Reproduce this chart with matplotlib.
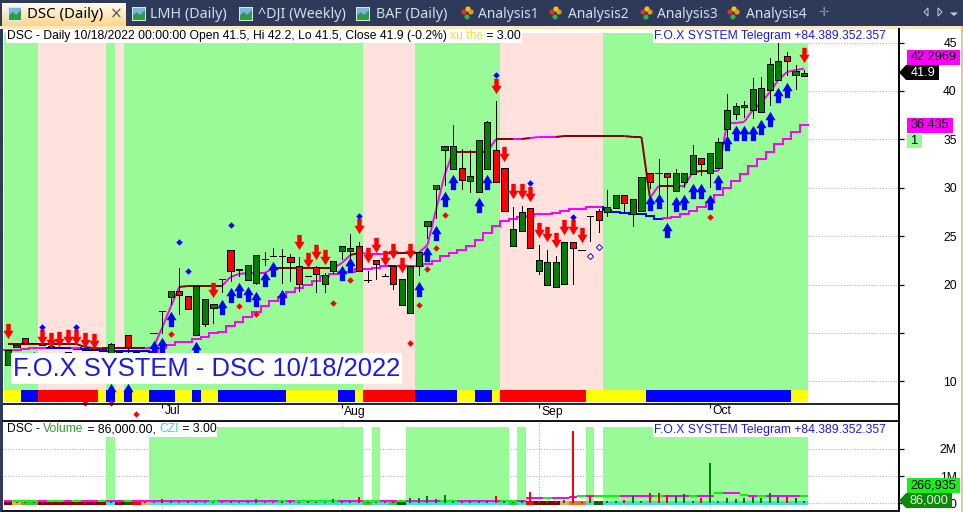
import matplotlib
matplotlib.use("Agg")
import matplotlib.pyplot as plt
import numpy as np
from matplotlib.patches import Rectangle, Polygon
from matplotlib.path import Path

# ---------- data ----------
opens = [11.68,13.54,14.47,13.96,13.75,13.65,13.54,13.03,13.34,13.23,13.23,13.13,12.62,13.03,14.78,13.03,13.13,14.99,17.26,18.71,
         19.33,18.81,14.78,15.92,17.57,20.57,23.56,21.45,20.47,20.16,22.64,22.95,22.95,22.84,21.91,20.88,21.81,20.05,21.40,23.46,
         23.46,23.98,20.47,22.53,20.88,21.91,17.88,17.06,21.91,26.04,29.87,33.89,31.93,32.04,30.69,29.56,31.93,33.89,32.04,23.98,
         25.53,27.90,21.40,19.95,19.74,20.05,24.39,23.56,27.08,27.59,27.49,27.90,29.25,27.28,27.59,31.52,31.52,31.52,29.66,30.59,
         31.42,33.07,31.52,32.04,36.06,37.61,38.34,38.03,37.82,40.09,41.13,43.61,41.64,41.5]
highs = [13.23,13.75,14.47,13.96,13.75,13.65,13.54,13.03,13.34,13.23,13.23,13.13,13.99,13.03,14.78,13.03,13.13,14.99,17.26,19.33,
         21.71,18.81,19.85,18.50,17.99,20.57,23.56,21.55,22.02,23.05,23.36,23.77,23.67,23.15,22.84,20.88,21.90,21.19,22.43,23.98,
         25.22,24.39,21.40,22.53,21.09,21.91,20.57,21.91,23.36,26.56,30.28,34.31,36.48,34.00,33.89,34.93,36.89,38.96,32.04,28.01,
         28.11,27.90,24.08,23.56,22.95,24.39,24.39,23.56,27.08,27.80,29.76,29.25,29.25,28.83,31.11,31.52,32.97,31.52,31.93,31.52,
         34.41,33.07,33.59,35.13,39.68,38.75,38.96,41.33,41.44,43.40,44.95,44.02,42.68,42.2]
lows = [11.68,13.54,13.96,13.96,13.75,13.65,13.54,13.03,13.34,13.23,13.23,13.13,12.62,13.03,12.72,13.03,13.13,14.99,14.99,17.99,
        16.95,17.47,14.78,15.71,16.02,19.23,20.36,20.88,20.47,20.05,22.02,22.95,20.16,20.36,19.33,20.88,19.23,19.23,21.19,22.64,
        22.02,21.40,20.26,20.57,20.88,19.54,17.88,17.06,20.98,24.80,26.87,30.28,31.93,29.87,29.56,29.56,31.93,30.59,27.59,23.98,
        25.53,23.77,21.09,19.95,19.74,20.05,20.05,23.56,24.49,25.42,27.08,27.90,27.59,26.04,27.59,29.97,29.25,27.08,29.66,30.07,
        31.42,31.31,30.07,32.04,35.34,37.10,37.30,37.20,37.82,38.54,41.13,41.64,40.20,41.5]
closes = [13.23,13.75,13.96,13.96,13.75,13.65,13.54,13.03,13.34,13.23,13.23,13.13,13.85,13.03,13.54,13.03,13.13,14.99,17.26,19.33,
          18.92,17.47,19.85,18.50,17.99,20.57,21.40,21.55,22.02,23.05,22.64,22.95,22.95,22.33,20.05,20.88,21.09,20.98,22.43,23.98,
          23.77,21.40,20.47,22.12,20.88,20.05,20.57,21.91,23.36,26.56,30.28,34.31,34.31,30.80,31.21,34.93,36.79,30.59,27.59,25.73,
          27.49,23.77,22.53,22.33,22.33,24.39,23.77,23.56,27.08,26.66,28.01,29.25,28.42,28.83,31.11,30.59,31.52,31.11,31.52,31.52,
          33.38,32.45,33.59,34.72,38.03,38.44,38.54,40.20,40.30,42.78,43.09,43.09,42.06,41.9]

upper_line = [13.85]*9 + [13.54,13.44] + [13.39]*6 + [13.54,15.51,17.68,19.74] + [19.85]*5 + [20.78,21.09,21.19,21.19,21.19] + [21.71]*8 + \
             [22.22,23.05,23.26,23.18,23.18,23.18,23.29,23.29,23.29,23.29,24.08,27.70,31.31,33.69,33.69,33.69,33.69,33.69,35.03,35.03,35.03,35.03,
              35.13,35.24,35.24,35.24] + [35.34]*8 + [35.24,35.24,28.94,30.18,30.18,30.18,30.18,31.62,31.73,31.73,31.73,36.68,36.68,36.79,38.03,38.75,39.89,41.13,41.95,42.16,42.2969]
upper_col = list("d"*17 + "mmmm" + "ddddd" + "mmmmmm" + "d"*7 + "mm" + "d" + "mmm" + "dddd" + "mmmm" + "dddd" + "m" + "dd" + "m" + "d" + "mmm" + "d"*11 + "m" + "dd" + "mm" + "dd" + "m"*11)
lower_line = [13.23,13.23,13.34,13.44,13.44,13.44,13.44,13.44,13.44,13.34,13.23,13.23,13.13,13.13,13.13,13.13,13.13,13.03,13.44,13.75,
              14.06,14.06,14.37,14.61,14.99,15.09,15.71,16.13,16.67,17.19,17.78,18.33,18.74,19.23,19.64,19.95,20.36,20.88,21.09,21.29,
              21.32,21.60,21.60,21.71,21.91,21.91,21.91,21.91,21.91,22.12,22.46,22.98,23.26,23.56,23.98,24.60,25.32,26.04,26.59,26.80,
              27.00,27.11,27.28,27.28,27.42,27.62,27.80,27.80,28.04,28.04,27.70,27.46,27.39,27.25,27.25,27.08,26.80,26.87,27.00,27.28,
              27.62,28.04,28.55,29.25,30.00,30.72,31.45,32.27,32.97,33.69,34.51,35.03,35.75,36.435]
lower_col = list("mmmmm" + "bbb" + "m" + "b"*9 + "m"*27 + "b" + "m"*24 + "b"*7 + "m"*17)

up_idx = [3,12,14,17,18,19,22,25,26,27,28,29,30,31,32,39,40,48,49,50,51,52,55,56,75,76,77,78,79,80,81,82,83,84,85,86,87,88,89,90,91]
up_val = [12.31,8.95,8.95,13.44,13.70,16.47,13.29,17.71,18.92,19.40,19.07,18.55,20.52,21.55,18.66,21.14,22.02,19.54,23.20,25.37,28.83,30.54,28.21,30.54,
          28.47,28.63,25.63,28.32,28.52,29.66,29.68,28.52,30.59,34.57,35.60,35.65,35.60,36.27,37.10,39.58,40.14]
dn_idx = [0,4,5,6,7,8,9,10,24,34,35,36,37,41,42,43,44,45,46,47,57,58,59,60,61,62,63,64,65,66,67,93]
dn_val = [15.15,14.61,14.27,14.42,14.53,14.58,14.27,14.16,19.48,24.44,22.48,23.31,22.86,26.04,23.00,24.03,22.69,23.41,22.02,23.41,
          40.53,33.53,29.61,29.71,29.40,25.68,25.17,24.55,25.89,25.89,25.11,43.76]
bdia_idx = [4,8,20,21,26,41,57,61,66]
bdia_val = [15.64,15.64,24.39,21.40,26.15,27.08,41.67,30.52,27.00]
rdia_idx = [9,12,15,19,27,29,38,40,47,48,49,50,51,82]
rdia_val = [7.76,7.79,6.62,14.92,17.78,16.98,18.09,20.47,13.96,17.88,21.60,23.77,27.18,26.97]
hollow_idx = [68,69]
hollow_val = [22.95,23.87]

pink_bars = [4,5,6,7,8,9,10,11,13] + list(range(42,48)) + list(range(58,70))
ribbon_runs = [("y",0,1),("b",2,3),("r",4,10),("y",11,11),("b",12,12),("y",13,13),("b",14,14),("y",15,16),("b",17,19),("y",20,21),("b",22,22),
               ("y",23,24),("b",25,32),("y",33,38),("b",39,40),("y",41,41),("r",42,47),("b",48,52),("y",53,54),("b",55,56),("y",57,57),
               ("r",58,67),("y",68,74),("b",75,91),("y",92,93)]

volume_m = [.05,.04,.06,.05,.04,.06,.05,.07,.05,.04,.06,.05,.07,.05,.06,.04,.05,.06,.16,.07,
            .05,.07,.08,.05,.06,.05,.07,.06,.07,.16,.05,.06,.09,.08,.05,.08,.06,.05,.17,.07,
            .07,.24,.04,.05,.05,.08,.06,.19,.18,.27,.17,.30,.08,.07,.09,.08,.07,.27,.09,.06,
            .12,.41,.08,.09,.10,.11,2.66,.05,.28,.10,.08,.10,.12,.27,.10,.37,.37,.30,.27,.33,
            .10,.20,1.50,.08,.18,.15,.18,.25,.18,.37,.22,.22,.18,.086]
vol_line = [.08]*17 + [.095]*44 + [.19]*5 + [.22,.27] + [.27]*15 + [.39,.39,.39,.32] + [.27]*7
vol_line[-1] = .266935
vol_lime = [1,2,3,5,6,8,11,14,24,32,34,35,36,37,38,42,43,46,51,52,58,59,63,67,69,70,71,76,80,83,86,88,93]
vol_green_bars = list(range(17,42)) + [12,43] + list(range(47,59)) + [60,68] + list(range(70,94))
czi_runs = [("#8b0000",0,0),("#f4a460",1,1),("#32cd32",2,3),("#8b0000",4,11),("#40e0d0",12,12),("#8b0000",13,13),("#006400",14,14),("#ff0000",15,15),
            ("#f4a460",16,16),("#40e0d0",17,41),("#32cd32",42,42),("#40e0d0",43,44),("#32cd32",45,45),("#006400",46,46),("#40e0d0",47,58),("#32cd32",59,59),
            ("#40e0d0",60,60),("#ff0000",61,61),("#8b0000",62,64),("#f4a460",65,65),("#ff6a2a",66,67),("#40e0d0",68,68),("#006400",69,69),("#40e0d0",70,93)]
month_idx = [18,39,62,82]
month_names = ["Jul","Aug","Sep","Oct"]
price_ticks = [10,15,20,25,30,35,40,45]
price_labels = ["10","","20","25","30","35","40","45"]
vol_ticks = [0,1,2]
vol_labels = ["0","1M","2M"]
tabs = ["LMH (Daily)","^DJI (Weekly)","BAF (Daily)"]
analyses = ["Analysis1","Analysis2","Analysis3","Analysis4"]

# ---------- layout ----------
W, H = 963, 512
X0, DX = 8.0, 8.56
FONT = "Liberation Sans"
FS = 8.7
GREEN_BG, PINK_BG = "#98fb98", "#ffe2de"
fig = plt.figure(figsize=(W/100, H/100), dpi=100, facecolor="white")

def axes_px(l, t, r, b, z):
    a = fig.add_axes([l/W, 1-b/H, (r-l)/W, (b-t)/H], zorder=z)
    a.set_xlim((l-X0)/DX, (r-X0)/DX)
    for s in a.spines.values():
        s.set_visible(False)
    a.set_xticks([])
    return a

def py(y): return 45-(y-42.5)/9.68
def vy(y): return (503.3-y)/27.2

ax = axes_px(3, 27, 899, 420, 1); ax.set_ylim(py(420), py(27))
vx = axes_px(3, 421, 899, 510, 1); vx.set_ylim(vy(510), vy(421))
ch = fig.add_axes([0,0,1,1], zorder=5); ch.set_xlim(0,W); ch.set_ylim(H,0); ch.axis("off"); ch.patch.set_alpha(0)

N = len(closes)
x = np.arange(N)
colmap = {"d":"#8b0000","m":"#ff00ff","b":"#0000ff"}
ribcol = {"y":"#ffff00","b":"#0000ff","r":"#ff0000"}
LW = 1.44

# price pane background
ax.hlines(price_ticks, -1, N+20, colors="#b0b0b0", linestyles=(0,(1,1.5)), lw=0.8, zorder=0)
for i in range(N):
    ax.add_patch(Rectangle((i-.5, py(402.5)), 1, py(33)-py(402.5), fc=PINK_BG if i in pink_bars else GREEN_BG, ec="none", aa=False, zorder=1))
for c,a_,b_ in ribbon_runs:
    ax.add_patch(Rectangle((a_-.5, py(402)), b_-a_+1, py(390)-py(402), fc=ribcol[c], ec="none", aa=False, zorder=1.5))

# lines
for i in range(1,N):
    ax.plot([i-1,i],[upper_line[i-1],upper_line[i]],color=colmap[upper_col[i]],lw=LW,solid_capstyle="butt",zorder=2)
for i in range(N):
    col = colmap[lower_col[i]]
    ax.plot([i-.5,i+.5],[lower_line[i]]*2,color=col,lw=LW,solid_capstyle="projecting",zorder=2)
    if i:
        ax.plot([i-.5,i-.5],[lower_line[i-1],lower_line[i]],color=col,lw=LW,zorder=2)

# candles
ax.vlines(x, lows, highs, colors="black", lw=0.72, zorder=3, antialiased=False)
for i in range(N):
    col = "#ff0000" if closes[i] < opens[i] else "#008000"
    b = min(opens[i],closes[i]); h = abs(closes[i]-opens[i])
    ax.add_patch(Rectangle((i-.36,b),.72,h,fc=col,ec="black",lw=0.72,aa=False,zorder=3.1))

# markers
up_path = Path([(0,7.5),(5,-.7),(2.6,-.7),(2.6,-7.5),(-2.6,-7.5),(-2.6,-.7),(-5,-.7),(0,7.5)], closed=True)
dn_path = Path([(0,-7.5),(5,.7),(2.2,.7),(2.2,7.5),(-2.2,7.5),(-2.2,.7),(-5,.7),(0,-7.5)], closed=True)
ax.plot(up_idx, up_val, ls="", marker=up_path, ms=11, mfc="#0000ff", mec="none", zorder=4, antialiased=False)
ax.plot(dn_idx, dn_val, ls="", marker=dn_path, ms=11, mfc="#ff0000", mec="none", zorder=4, antialiased=False)
ax.plot(bdia_idx, bdia_val, ls="", marker="D", ms=3.3, mfc="#0000ff", mec="none", zorder=4.1)
ax.plot(rdia_idx, rdia_val, ls="", marker="D", ms=3.3, mfc="#ff0000", mec="none", zorder=4.1, clip_on=False)
ax.plot(hollow_idx, hollow_val, ls="", marker="D", ms=3.1, mfc="white", mec="#0000ff", mew=0.7, zorder=4.1)

# date strip
ax.hlines(py(403.5), -1, N+20, colors="black", lw=1.2, zorder=5)
ax.vlines(month_idx, py(408), py(403), colors="black", lw=0.8, zorder=5)
for i,n in zip(month_idx, month_names):
    ax.text(i+0.3, py(411.5), n, fontsize=FS, family=FONT, va="center", ha="left", zorder=5)

# price axis ticks
ax.yaxis.tick_right()
ax.set_yticks(price_ticks); ax.set_yticklabels(price_labels, family=FONT, fontsize=FS, ha="right")
ax.tick_params(axis="y", length=3.6, width=0.9, pad=38, color="black")

# volume pane
vx.vlines(month_idx, vy(510), vy(421), colors="#b0b0b0", linestyles=(0,(1,1.5)), lw=0.8, zorder=0)
vx.hlines(vol_ticks, -1, N+20, colors="#b0b0b0", linestyles=(0,(1,1.5)), lw=0.8, zorder=0)
for i in vol_green_bars:
    vx.add_patch(Rectangle((i-.5, vy(505)), 1, vy(427)-vy(505), fc=GREEN_BG, ec="none", aa=False, zorder=1))
for c,a_,b_ in czi_runs:
    vx.add_patch(Rectangle((a_-.5, vy(505)), b_-a_+1, vy(501)-vy(505), fc=c, ec="none", aa=False, zorder=1.5))
for i in range(N):
    col = "#ff0000" if closes[i] <= opens[i] else "#008000"
    vx.plot([i,i],[0,volume_m[i]],color=col,lw=1.44,solid_capstyle="butt",zorder=3)
    lc = "#00ff00" if i in vol_lime else "#ff00ff"
    vx.plot([i-.5,i+.5],[vol_line[i]]*2,color=lc,lw=1.44,solid_capstyle="butt",zorder=2.5)
vx.yaxis.tick_right()
vx.set_yticks(vol_ticks); vx.set_yticklabels(vol_labels, family=FONT, fontsize=FS, ha="right")
vx.tick_params(axis="y", length=3.6, width=0.9, pad=38, color="black")

# ---------- chrome (pixel coordinates) ----------
NAVY = "#2d3a5a"
def rect(x0,y0,x1,y1,c,z=1,**k):
    ch.add_patch(Rectangle((x0,y0),x1-x0,y1-y0,fc=c,ec="none",aa=False,zorder=z,**k))

rect(0,0,W,26,NAVY)
rect(0,26,W,29,"#fde8c2")
rect(0,29,2.5,H,NAVY)
rect(961,26,W,H,"#d9c8a0")
grad = np.linspace(0,1,24)[:,None,None]*(np.array([253,214,140])-np.array([255,250,240]))+np.array([255,250,240])
ch.imshow(grad/255, extent=(2,126,26,3), aspect="auto", zorder=1.5)
ch.set_xlim(0,W); ch.set_ylim(H,0)
ch.text(27,14.5,"DSC (Daily)",family="Noto Sans",weight="bold",fontsize=10.8,va="center",ha="left",color="black",zorder=2)
ch.text(116,13.5,"\u00d7",family="DejaVu Sans",fontsize=11,va="center",ha="center",color="#555555",zorder=2)

def chart_icon(x0):
    rect(x0,7,x0+14,21,"#d9e6f5",2)
    rect(x0+1,8,x0+13,15,"#7fb2e5",2.1)
    ch.add_patch(Polygon([(x0+1,20),(x0+1,15),(x0+5,12),(x0+8,15),(x0+13,10),(x0+13,20)],fc="#2e9e3a",ec="none",zorder=2.2))
def ana_icon(x0):
    ch.scatter([x0+3,x0+7,x0+10,x0+6],[12,9,12,17],s=[14,14,14,14],c=["#e0342a","#f5c518","#e89a1c","#35b044"],zorder=2,linewidths=0)

chart_icon(8)
for xi,xt,t in zip([132,239,356],[150,258,376],tabs):
    chart_icon(xi)
    ch.text(xt,14.5,t,family="Noto Sans",fontsize=10.3,va="center",ha="left",color="#d5dcea",zorder=2)
for xi,xt,t in zip([461,549,640,727],[478,568,657,746],analyses):
    ana_icon(xi)
    ch.text(xt,14.5,t,family="Noto Sans",fontsize=10,va="center",ha="left",color="#d5dcea",zorder=2)
ch.text(823.5,13,"\u271b",family="DejaVu Sans",fontsize=9,va="center",ha="center",color="#8e98ae",zorder=2)
ch.add_patch(Polygon([(928,8),(928,16),(924,12)],fc=NAVY,ec="#c8d0de",lw=.7,zorder=2))
ch.add_patch(Polygon([(938,8),(938,16),(942,12)],fc=NAVY,ec="#c8d0de",lw=.7,zorder=2))
ch.add_patch(Polygon([(950,12.5),(958,12.5),(954,16)],fc="#c8d0de",ec="none",zorder=2))

fig.canvas.draw()
rend = fig.canvas.get_renderer()
def seq(x0,yc,parts,top,bot,fs=FS):
    xx = x0
    for s,c in parts:
        t = ch.text(xx,yc,s,family=FONT,fontsize=fs,color=c,va="center",ha="left",zorder=3)
        ws = ch.text(0,0,s.replace(" ","\u00a0"),family=FONT,fontsize=fs,alpha=0)
        xx += ws.get_window_extent(rend).width
        ws.remove()
    rect(x0-1,top,xx+1,bot,"white",2.5)

seq(7,36,[("DSC - Daily 10/18/2022 00:00:00 Open 41.5, Hi 42.2, Lo 41.5, Close 41.9 (-0.2%) ","black"),("xu the","#f0e020"),(" = 3.00","black")],30,43)
seq(653.5,35.5,[("F.O.X SYSTEM Telegram +84.389.352.357","#1a1ae6")],30,43)
seq(7,429.5,[("DSC - ","black"),("Volume","#2e9e2e"),(" = 86,000.00, ","black"),("CZI","#48d1cc"),(" = 3.00","black")],424,437)
seq(653.5,430,[("F.O.X SYSTEM Telegram +84.389.352.357","#1a1ae6")],424,437)

rect(11,353,402,384,"white",2.5)
ch.text(13,369,"F.O.X SYSTEM - DSC 10/18/2022",family=FONT,fontsize=18.4,color="#1a1ae6",va="center",ha="left",zorder=3)

# right-hand value badges
ch.plot([899,899],[28,510.5],color="black",lw=1.4,zorder=2,solid_capstyle="butt")
ch.plot([3,899],[420.5,420.5],color="black",lw=1.3,zorder=2)
ch.plot([3,899],[510.5,510.5],color="black",lw=1.3,zorder=2)
def badge(x0,y0,x1,y1,c,s,tc="black",xt=None):
    rect(x0,y0,x1,y1,c,3)
    ch.text(xt if xt else (x0+x1)/2,(y0+y1)/2,s,family=FONT,fontsize=9.2,color=tc,va="center",ha="center",zorder=4)
badge(907,50,960,65,"#ff00ff","42.2969")
badge(907,118,953,133,"#ff00ff","36.435")
badge(907,134,922,148,GREEN_BG,"1")
ch.add_patch(Polygon([(899,72.5),(906,65),(939,65),(939,80),(906,80)],fc="black",ec="none",zorder=3))
ch.text(923,72.5,"41.9",family=FONT,fontsize=9.2,color="white",va="center",ha="center",zorder=4)
badge(907,478,960,493,"#19f01a","266,935")
ch.add_patch(Polygon([(899,500.5),(906,493),(952,493),(952,508),(906,508)],fc="#0a8a0a",ec="none",zorder=3))
ch.text(929,500.5,"86,000",family=FONT,fontsize=9.2,color="#f0f5e0",va="center",ha="center",zorder=4)

fig.savefig("out.png", dpi=100)
